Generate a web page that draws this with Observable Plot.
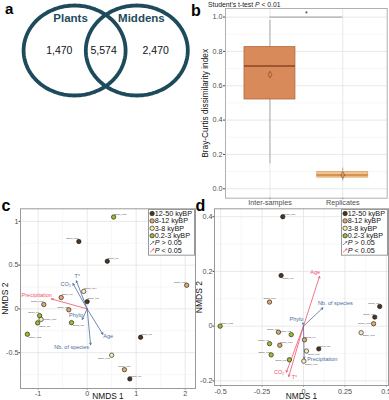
<!DOCTYPE html>
<html><head><meta charset="utf-8">
<script src="https://cdn.jsdelivr.net/npm/d3@7"></script>
<script src="https://cdn.jsdelivr.net/npm/@observablehq/plot@0.6"></script>
<style>
html,body{margin:0;padding:0;background:#fff;}
#wrap{position:relative;width:389px;height:400px;overflow:hidden;font-family:"Liberation Sans",Arial,sans-serif;}
.pl{position:absolute;font-weight:bold;line-height:1;color:#000;white-space:nowrap;}
</style></head><body><div id="wrap"></div>
<script>
// ---------------- data ----------------
const vennSets = ["Plants", "Middens"];
const vennCounts = [1470, 5574, 2470]; // Plants only, shared, Middens only

const bGroups = ["Inter-samples", "Replicates"];
const bLow = [0.145, 0.045];
const bQ1 = [0.52, 0.065];
const bMedian = [0.715, 0.08];
const bQ3 = [0.825, 0.097];
const bHigh = [0.98, 0.12];
const bMean = [0.665, 0.08];
const bTicks = [0, 0.2, 0.4, 0.6, 0.8, 1.0];
const bMinor = [0.1, 0.3, 0.5, 0.7, 0.9];
const bSigLevel = 1.0;

const periods = ["12-50 kyBP", "8-12 kyBP", "3-8 kyBP", "0.2-3 kyBP"];
const periodColors = ["#4a3524", "#dea96b", "#f8e9ba", "#9cbc2b"];
const sigLabels = ["> 0.05", "< 0.05"];
const sigColors = ["#4b6c9e", "#f0506e"];

const samples = ["Samp_M1","Samp_M2","Samp_M3","Samp_M4","Samp_M5","Samp_M6","Samp_M7","Samp_M8","Samp_M9",
  "Samp_M10","Samp_M11","Samp_M12","Samp_M13","Samp_M14","Samp_M15","Samp_M16","Samp_M17","Samp_M18"];
const samplePeriod = [0,3,0,1,3,3,0,1,0,2,0,3,3,2,1,1,2,1];

const cNMDS1 = [0.87,-0.32,0.0,-0.375,-1.01,-0.97,1.09,-0.53,0.41,0.5,-0.17,0.54,-1.22,-0.07,-0.885,0.76,-0.94,2.03];
const cNMDS2 = [-0.80,-0.157,0.083,-0.01,-0.16,-0.077,-0.325,0.13,0.545,-0.53,0.77,1.05,-0.29,0.2,0.05,-0.695,-0.12,0.27];
const cLabelSide = ["tr","br","tr","tl","br","tl","tr","tr","tr","bl","tl","tr","br","tr","tl","t","r","tl"];

const dNMDS1 = [0.46,-0.074,0.092,0.006,-0.085,-0.205,0.43,-0.151,-0.135,0.348,-0.125,-0.503,-0.195,0.018,-0.143,0.423,0.002,-0.205];
const dNMDS2 = [0.072,-0.031,-0.083,-0.05,-0.123,-0.064,0.033,-0.022,0.185,-0.024,0.40,0.0,-0.105,-0.091,-0.07,0.009,-0.128,0.088];
const dLabelSide = ["tl","tl","tr","tr","l","tl","tl","tl","br","br","tr","tr","tl","br","tr","l","br","t"];

const envVars = ["T°", "CO₂", "Precipitation", "Phylo", "Age", "Nb. of species"];
const cEnv1 = [-0.22, -0.29, -0.73, -0.10, 0.32, 0.07];
const cEnv2 = [0.32, 0.29, 0.114, -0.12, -0.29, -0.41];
const cEnvSig = [0, 0, 1, 0, 0, 0];
const cEnvSide = ["above", "left", "upleft", "upleft", "belowright", "belowleft"];
const dEnv1 = [-0.089, -0.103, 0.004, -0.004, 0.097, 0.117];
const dEnv2 = [-0.184, -0.168, -0.119, 0.012, 0.182, 0.067];
const dEnvSig = [1, 1, 0, 0, 1, 0];
const dEnvSide = ["right", "left", "right", "upleft", "upleft", "upright"];

const cXTicks = [-1, 0, 1, 2], cXMinor = [-0.5, 0.5, 1.5];
const cYTicks = [-0.5, 0, 0.5, 1], cYMinor = [-0.75, -0.25, 0.25, 0.75];
const dXTicks = [-0.5, -0.25, 0, 0.25, 0.5], dXMinor = [-0.375, -0.125, 0.125, 0.375];
const dYTicks = [-0.2, 0, 0.2, 0.4], dYMinor = [-0.1, 0.1, 0.3];

// ---------------- helpers ----------------
const FONT = '"Liberation Sans", Arial, sans-serif';
const wrap = document.getElementById("wrap");
function place(el, left, top) {
  el.style.position = "absolute";
  el.style.left = left + "px";
  el.style.top = top + "px";
  wrap.appendChild(el);
  return el;
}
function sty(fs) {
  return {fontFamily: FONT, fontSize: fs + "px", background: "transparent", overflow: "visible", color: "#4d4d4d"};
}
function html(cls, text, left, top, fs) {
  const d = document.createElement("div");
  d.className = cls; d.innerHTML = text; d.style.fontSize = fs + "px";
  return place(d, left, top);
}

// ---------------- panel a: Venn ----------------
// layout in circle-radius units (x and y scales differ, as in the reference's stretched figure)
const VENN = {sep: 1.22, steps: 120};
const vennCx = [-VENN.sep / 2, VENN.sep / 2];
const outline = vennSets.flatMap((s, k) => d3.range(VENN.steps + 1).map(j => {
  const t = 2 * Math.PI * j / VENN.steps;
  return {set: s, x: vennCx[k] + Math.cos(t), y: Math.sin(t)};
}));
const regionMid = [(-1 - VENN.sep / 2 + (VENN.sep / 2 - 1)) / 2, 0, (1 + VENN.sep / 2 + (1 - VENN.sep / 2)) / 2];
const regionNudge = [0.09, -0.04, -0.02];
const teal = "#1e4b5b";
place(Plot.plot({
  width: 190, height: 110, margin: 0,
  x: {domain: [-2.063, 1.663], range: [0, 190], axis: null},
  y: {domain: [1.111, -1.333], range: [0, 110], axis: null},
  style: sty(10),
  marks: [
    Plot.line(outline, {x: "x", y: "y", z: "set", stroke: teal, strokeWidth: 3.8, curve: "linear-closed"}),
    Plot.text(vennSets, {x: (d, i) => vennCx[i] + (i ? 0.09 : -0.08), y: 0.71, text: d => d, fontSize: 11.5, fontWeight: "bold", fill: teal}),
    Plot.text(vennCounts, {x: (d, i) => regionMid[i] + regionNudge[i], y: 0, text: d => d3.format(",")(d), fontSize: 10.5, fill: "#111"})
  ]
}), 0, 0);

// ---------------- panel b: boxplot ----------------
const bIdx = bGroups.map((_, i) => i);
const bFill = ["#d98a5b", "#f6c38c"];
const bStroke = ["#b0673d", "#d9a066"];
const bMed = ["#8a4524", "#c8834a"];
place(Plot.plot({
  width: 199, height: 210, marginLeft: 35, marginRight: 2.3, marginTop: 8, marginBottom: 12.3,
  x: {domain: [-0.611, 1.611], ticks: bIdx, tickFormat: i => bGroups[i], tickSize: 1.5, tickPadding: 0.5, label: null},
  y: {domain: [-0.055, 1.05], ticks: bTicks, tickFormat: d3.format(".1f"), tickSize: 2, tickPadding: 1, label: null},
  color: {type: "identity"},
  style: sty(7.2),
  marks: [
    Plot.ruleY(bMinor, {stroke: "#f2f2f2", strokeWidth: 0.6}),
    Plot.ruleY(bTicks, {stroke: "#e2e2e2", strokeWidth: 0.8}),
    Plot.ruleX(bIdx, {stroke: "#e2e2e2", strokeWidth: 0.8}),
    Plot.frame({stroke: "#b0b0b0"}),
    Plot.ruleX(bIdx, {x: i => i, y1: i => bLow[i], y2: i => bHigh[i], stroke: "#9a9a9a", strokeWidth: 0.8}),
    Plot.rect(bIdx, {x1: i => i - 0.35, x2: i => i + 0.35, y1: i => bQ1[i], y2: i => bQ3[i], fill: i => bFill[i], stroke: i => bStroke[i], strokeWidth: 0.8}),
    Plot.ruleY(bIdx, {x1: i => i - 0.35, x2: i => i + 0.35, y: i => bMedian[i], stroke: i => bMed[i], strokeWidth: 1.3}),
    Plot.dot(bIdx, {x: i => i, y: i => bMean[i], symbol: "diamond", r: 2, stroke: "#8a4524", fill: "none", strokeWidth: 0.7}),
    Plot.ruleY([bSigLevel], {x1: 0, x2: 1, stroke: "#888", strokeWidth: 0.8}),
    Plot.text(["*"], {x: 0.5, y: bSigLevel, dy: -1, lineAnchor: "bottom", fontSize: 7, fill: "#222"}),
    Plot.text(["Bray-Curtis dissimilarity index"], {frameAnchor: "left", dx: -20, rotate: -90, textAnchor: "middle", fontSize: 8.3, fill: "#111"})
  ]
}), 190, 0);
html("", "Student's t-test <i>P</i> &lt; 0.01", 208, 0.8, 6.8).style.color = "#222";

// ---------------- panels c & d: NMDS ----------------
const sideStyle = {
  tr: {textAnchor: "start", dx: 0.5, dy: -3},
  tl: {textAnchor: "end", dx: -0.5, dy: -3},
  t:  {textAnchor: "middle", dx: 0, dy: -3.5},
  r:  {textAnchor: "start", dx: 3, dy: 0},
  l:  {textAnchor: "end", dx: -3, dy: 0},
  br: {textAnchor: "start", dx: 1.5, dy: 3},
  bl: {textAnchor: "end", dx: -1.5, dy: 3}
};
const envSideStyle = {
  above:      {textAnchor: "middle", dx: 1, dy: -4.5},
  left:       {textAnchor: "end", dx: -2, dy: 0.5},
  upleft:     {textAnchor: "end", dx: 0.5, dy: -4},
  upright:    {textAnchor: "start", dx: -5, dy: -4.5},
  belowright: {textAnchor: "start", dx: 0.5, dy: 2},
  belowleft:  {textAnchor: "end", dx: -1.5, dy: 2},
  right:      {textAnchor: "start", dx: 3, dy: 1}
};

function nmds(o) {
  const pts = samples.map((s, i) => ({name: s, x: o.x1[i], y: o.x2[i], p: samplePeriod[i], side: o.side[i]}));
  const env = envVars.map((v, i) => ({name: v, x: o.e1[i], y: o.e2[i], sig: o.sig[i], side: o.eside[i]}));
  const marks = [
    Plot.ruleX(o.xMinor, {stroke: "#f2f2f2", strokeWidth: 0.6}),
    Plot.ruleY(o.yMinor, {stroke: "#f2f2f2", strokeWidth: 0.6}),
    Plot.ruleX(o.xTicks, {stroke: "#e3e3e3", strokeWidth: 0.8}),
    Plot.ruleY(o.yTicks, {stroke: "#e3e3e3", strokeWidth: 0.8}),
    Plot.frame({stroke: "#999"}),
    Plot.arrow(env, {x1: 0, y1: 0, x2: "x", y2: "y", stroke: d => sigColors[d.sig], strokeWidth: 0.8, headLength: 3.5})
  ];
  for (const [k, s] of Object.entries(envSideStyle)) {
    marks.push(Plot.text(env, {filter: d => d.side === k, x: "x", y: "y", text: "name", fontSize: 5.5, fill: d => sigColors[d.sig], ...s}));
  }
  marks.push(Plot.dot(pts, {x: "x", y: "y", r: 2.2, fill: d => periodColors[d.p], stroke: "#111", strokeWidth: 0.6}));
  for (const [k, s] of Object.entries(sideStyle)) {
    marks.push(Plot.text(pts, {filter: d => d.side === k, x: "x", y: "y", text: "name", fontSize: 2.4, fill: "#444", ...s}));
  }
  marks.push(Plot.text(["NMDS 1"], {frameAnchor: "bottom", dy: o.xLabDy, fontSize: 8.3, fill: "#111"}));
  marks.push(Plot.text(["NMDS 2"], {frameAnchor: "left", dx: -15, rotate: -90, textAnchor: "middle", fontSize: 8.5, fill: "#111"}));
  return Plot.plot({
    width: o.width, height: 200, marginLeft: 20, marginRight: o.mr, marginTop: 8.3, marginBottom: o.mb,
    x: {domain: o.xd, ticks: o.xTicks, tickFormat: String, tickSize: 1.5, tickPadding: o.xPad, label: null},
    y: {domain: o.yd, ticks: o.yTicks, tickFormat: String, tickSize: 1.5, tickPadding: 0.5, label: null},
    color: {type: "identity"},
    style: sty(7.2),
    marks
  });
}

function legend() {
  const rows = periods.length;
  const keyRows = sigLabels.map((s, i) => rows + i);
  return Plot.plot({
    width: 46, height: 45.7, margin: 0,
    x: {domain: [0, 46], range: [0, 46], axis: null},
    y: {domain: [0, rows + 1], range: [4, 41], axis: null},
    color: {type: "identity"},
    style: {...sty(7.2), background: "white"},
    marks: [
      Plot.frame({fill: "white", stroke: "#999"}),
      Plot.dot(periods, {y: (d, i) => i, frameAnchor: "left", dx: 3.6, r: 2.2, fill: (d, i) => periodColors[i], stroke: "#111", strokeWidth: 0.6}),
      Plot.text(periods, {y: (d, i) => i, frameAnchor: "left", dx: 6.3, textAnchor: "start", fontSize: 7.2, fill: "#111"}),
      Plot.arrow(keyRows, {x1: 1.8, x2: 5.4, y1: r => r + 0.22, y2: r => r - 0.22, stroke: (r, i) => sigColors[i], strokeWidth: 0.8, headLength: 2.2}),
      Plot.text(sigLabels, {y: (d, i) => keyRows[i], frameAnchor: "left", dx: 6.3, textAnchor: "start", text: () => "P", fontStyle: "italic", fontSize: 7.2, fill: "#111"}),
      Plot.text(sigLabels, {y: (d, i) => keyRows[i], frameAnchor: "left", dx: 13.0, textAnchor: "start", fontSize: 7.2, fill: "#111"})
    ]
  });
}

place(nmds({
  x1: cNMDS1, x2: cNMDS2, side: cLabelSide, e1: cEnv1, e2: cEnv2, sig: cEnvSig, eside: cEnvSide,
  xTicks: cXTicks, xMinor: cXMinor, yTicks: cYTicks, yMinor: cYMinor,
  xd: [-1.36, 2.21], yd: [-0.91, 1.144], width: 195, mr: 0, mb: 12, xPad: 0.5, xLabDy: 10.6
}), 0, 200);
place(legend(), 148.3, 209.3);

place(nmds({
  x1: dNMDS1, x2: dNMDS2, side: dLabelSide, e1: dEnv1, e2: dEnv2, sig: dEnvSig, eside: dEnvSide,
  xTicks: dXTicks, xMinor: dXMinor, yTicks: dYTicks, yMinor: dYMinor,
  xd: [-0.537, 0.513], yd: [-0.217, 0.429], width: 195, mr: 1, mb: 15, xPad: 1.5, xLabDy: 13.6
}), 194, 200);
place(legend(), 340.7, 209.3);

// panel letters
html("pl", "a", 5, 1.3, 15);
html("pl", "b", 191, 3.2, 16);
html("pl", "c", 1.5, 198.2, 16);
html("pl", "d", 195.5, 197.5, 16);
</script></body></html>
